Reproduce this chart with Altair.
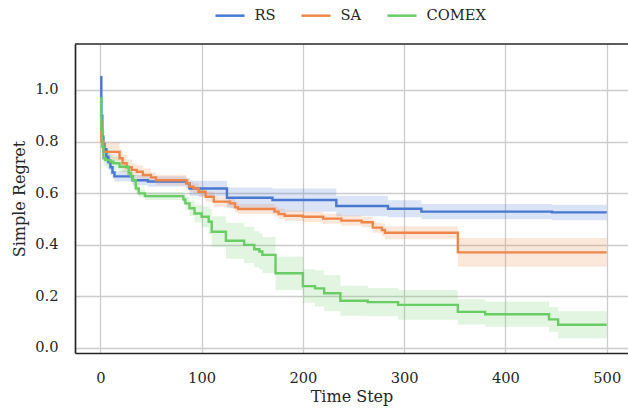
import altair as alt
import pandas as pd

series = ["RS", "SA", "COMEX"]
colors = ["#4878d0", "#ee854a", "#6acc64"]

rs_x = [0, 1, 2, 3, 4, 6, 8, 10, 12, 14, 32, 47, 85, 88, 125, 170, 233, 284, 317, 446, 500]
rs_y = [1.05, 0.90, 0.82, 0.79, 0.77, 0.74, 0.72, 0.70, 0.68, 0.665, 0.65, 0.645, 0.638,
        0.618, 0.582, 0.573, 0.550, 0.539, 0.528, 0.525, 0.525]
rs_hw = [0.01, 0.03, 0.03, 0.03, 0.03, 0.03, 0.03, 0.03, 0.025, 0.02, 0.02, 0.02, 0.02,
         0.03, 0.04, 0.045, 0.04, 0.033, 0.03, 0.03, 0.03]

sa_x = [0, 1, 3, 19, 22, 26, 31, 36, 42, 50, 55, 85, 88, 92, 97, 104, 112, 128, 133, 136,
        172, 176, 182, 200, 220, 238, 258, 269, 278, 281, 353, 500]
sa_y = [0.88, 0.80, 0.76, 0.735, 0.716, 0.70, 0.69, 0.683, 0.67, 0.661, 0.65, 0.638, 0.625,
        0.618, 0.605, 0.586, 0.567, 0.56, 0.545, 0.538, 0.528, 0.519, 0.512, 0.508, 0.501,
        0.493, 0.487, 0.466, 0.457, 0.446, 0.37, 0.37]
sa_hw = [0.02, 0.03, 0.035, 0.035, 0.035, 0.03, 0.025, 0.025, 0.025, 0.02, 0.02, 0.02, 0.02,
         0.02, 0.02, 0.02, 0.02, 0.02, 0.02, 0.02, 0.02, 0.02, 0.02, 0.02, 0.02, 0.02, 0.02,
         0.02, 0.025, 0.025, 0.056, 0.056]

cx_x = [0, 1, 2, 3, 5, 10, 13, 19, 28, 30, 32, 35, 38, 44, 82, 84, 88, 93, 100, 107, 110,
        124, 142, 152, 157, 160, 173, 200, 212, 221, 237, 264, 294, 353, 380, 443, 452, 500]
cx_y = [0.968, 0.85, 0.78, 0.735, 0.728, 0.722, 0.716, 0.702, 0.677, 0.665, 0.65, 0.618,
        0.599, 0.588, 0.575, 0.56, 0.541, 0.521, 0.508, 0.489, 0.450, 0.415, 0.399, 0.382,
        0.373, 0.360, 0.289, 0.239, 0.230, 0.211, 0.182, 0.177, 0.166, 0.139, 0.130, 0.110,
        0.089, 0.089]
cx_hw = [0.02, 0.03, 0.03, 0.03, 0.03, 0.025, 0.025, 0.02, 0.02, 0.02, 0.02, 0.02, 0.015,
         0.015, 0.02, 0.025, 0.03, 0.035, 0.04, 0.05, 0.06, 0.07, 0.07, 0.07, 0.07, 0.07,
         0.065, 0.065, 0.07, 0.07, 0.058, 0.055, 0.058, 0.049, 0.049, 0.048, 0.052, 0.052]

x_ticks = [0, 100, 200, 300, 400, 500]
y_ticks = [0.0, 0.2, 0.4, 0.6, 0.8, 1.0]

rows = []
for name, xs, ys, hws in [("RS", rs_x, rs_y, rs_hw), ("SA", sa_x, sa_y, sa_hw),
                          ("COMEX", cx_x, cx_y, cx_hw)]:
    for x, y, h in zip(xs, ys, hws):
        rows.append({"method": name, "step": x, "regret": y, "lo": y - h, "hi": y + h})
df = pd.DataFrame(rows)

FONT = "DejaVu Serif"
TXT = "#262626"
W, H = 553, 309

xscale = alt.Scale(domain=[-25, 521], nice=False, zero=False)
yscale = alt.Scale(domain=[-0.0206, 1.1785], nice=False, zero=False)
cscale = alt.Scale(domain=series, range=colors)

xaxis = alt.Axis(values=x_ticks, title="Time Step", grid=True, gridColor="#cccccc",
                 gridWidth=1.3, ticks=False, tickSize=0, labelPadding=17,
                 labelFontSize=14.67, labelFont=FONT, labelColor=TXT, labelFlush=False,
                 titleFontSize=16, titleFont=FONT, titleColor=TXT, titleFontWeight="normal",
                 titleY=48, titleBaseline="alphabetic",
                 domainColor=TXT, domainWidth=1.7)
yaxis = alt.Axis(values=y_ticks, format=".1f", title="Simple Regret", grid=True,
                 gridColor="#cccccc", gridWidth=1.3, ticks=False, tickSize=0,
                 labelPadding=17, labelFontSize=14.67, labelFont=FONT, labelColor=TXT,
                 labelFlush=False, titleFontSize=16, titleFont=FONT, titleColor=TXT,
                 titleFontWeight="normal", titleX=-51, titleY=154.5,
                 titleBaseline="alphabetic", domainColor=TXT, domainWidth=1.7)

base = alt.Chart(df)

bands = []
for name, col in zip(series, colors):
    bands.append(
        base.transform_filter(alt.datum.method == name)
        .mark_area(interpolate="step-after", color=col, fillOpacity=0.2)
        .encode(
            x=alt.X("step:Q", scale=xscale, axis=xaxis),
            y=alt.Y("lo:Q", scale=yscale, axis=yaxis),
            y2="hi:Q",
        )
    )

line = base.mark_line(interpolate="step-after", strokeWidth=2.4).encode(
    x=alt.X("step:Q", scale=xscale, axis=xaxis),
    y=alt.Y("regret:Q", scale=yscale, axis=yaxis),
    stroke=alt.Stroke("method:N", scale=cscale, sort=series,
                      legend=alt.Legend(title=None, orient="none", direction="horizontal",
                                        legendX=139, legendY=-44.5, symbolType="stroke",
                                        symbolSize=841, symbolStrokeWidth=2.5,
                                        labelFontSize=14.67, labelFont=FONT, labelColor=TXT,
                                        labelOffset=8.5, columnPadding=20, padding=0)),
)

top = alt.Chart(pd.DataFrame({"k": [0]})).mark_rule(color=TXT, strokeWidth=1.7).encode(
    x=alt.value(0), x2=alt.value(W), y=alt.value(0)
)

chart = alt.layer(*bands, line, top).properties(
    width=W, height=H,
    autosize=alt.AutoSizeParams(type="none"),
    padding={"left": 75, "top": 44, "right": 0, "bottom": 55},
).configure_view(stroke=None)

chart.save("out.html", embed_options={"renderer": "svg", "actions": False})
